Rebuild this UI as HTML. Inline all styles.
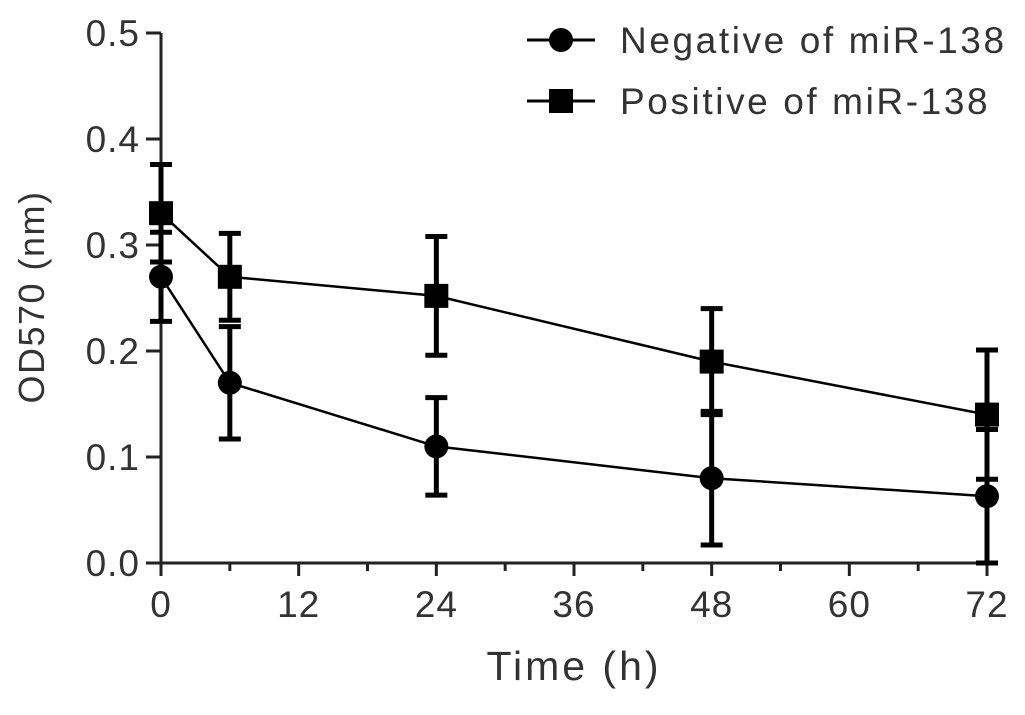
<!DOCTYPE html>
<html><head><meta charset="utf-8"><style>
body{margin:0;background:#fff}
svg text{font-family:"Liberation Sans",sans-serif;fill:#333}
</style></head><body>
<svg id="chart" width="1025" height="710" xmlns="http://www.w3.org/2000/svg">
<g id="axes"></g><g id="marks"></g>
<text x="574" y="680" font-size="41" letter-spacing="3" text-anchor="middle">Time (h)</text>
<text transform="translate(44,297) rotate(-90)" font-size="36" letter-spacing="1.5" text-anchor="middle">OD570 (nm)</text>
<g>
<line x1="527" y1="40" x2="595" y2="40" stroke="#000" stroke-width="3"/>
<circle cx="561" cy="40" r="12" fill="#000"/>
<text x="620" y="53" font-size="37" letter-spacing="2.6">Negative of miR-138</text>
<line x1="527" y1="101" x2="595" y2="101" stroke="#000" stroke-width="3"/>
<rect x="549" y="89" width="24" height="24" fill="#000"/>
<text x="620" y="114" font-size="37" letter-spacing="2.6">Positive of miR-138</text>
</g>
</svg>
<script>
const times=[0,6,24,48,72];
const negMean=[0.27,0.17,0.11,0.08,0.063];
const negErr=[0.042,0.053,0.046,0.063,0.063];
const posMean=[0.33,0.27,0.252,0.19,0.14];
const posErr=[0.046,0.041,0.056,0.05,0.061];
const xTicks=[0,12,24,36,48,60,72];
const yTicks=[0.0,0.1,0.2,0.3,0.4,0.5];
const X=t=>161+t*(826/72);
const Y=v=>563-v*1060;
const NS="http://www.w3.org/2000/svg";
function mk(p,tag,a){const e=document.createElementNS(NS,tag);for(const k in a)e.setAttribute(k,a[k]);p.appendChild(e);return e;}
const ax=document.getElementById('axes'),mg=document.getElementById('marks');
let e=mk(ax,'line',{x1:161,y1:Y(0.5),x2:161,y2:564,stroke:'#222','stroke-width':3});


e=mk(ax,'line',{x1:160,y1:563,x2:X(72)+2,y2:563,stroke:'#222','stroke-width':3});


yTicks.forEach(v=>{mk(ax,'line',{x1:146,y1:Y(v),x2:161,y2:Y(v),stroke:'#222','stroke-width':3});
const t=mk(ax,'text',{x:140,y:Y(v)+13,'font-size':37,'letter-spacing':1,'text-anchor':'end'});t.textContent=v.toFixed(1);

});
xTicks.forEach(v=>{mk(ax,'line',{x1:X(v),y1:563,x2:X(v),y2:576,stroke:'#222','stroke-width':3});
const t=mk(ax,'text',{x:X(v),y:617,'font-size':37,'letter-spacing':1,'text-anchor':'middle'});t.textContent=v;

});
for(let m=6;m<72;m+=12)mk(ax,'line',{x1:X(m),y1:563,x2:X(m),y2:571,stroke:'#222','stroke-width':3});
function series(mean,err,shape,name){
const pts=times.map((t,i)=>X(t)+','+Y(mean[i])).join(' ');
const l=mk(mg,'polyline',{points:pts,fill:'none',stroke:'#000','stroke-width':2.5});


times.forEach((t,i)=>{const x=X(t),y1=Y(mean[i]+err[i]),y2=Y(Math.max(0,mean[i]-err[i]));
const g=mk(mg,'g',{});


mk(g,'line',{x1:x,y1:y1,x2:x,y2:y2,stroke:'#000','stroke-width':5});
mk(g,'line',{x1:x-11,y1:y1,x2:x+11,y2:y1,stroke:'#000','stroke-width':5});
mk(g,'line',{x1:x-11,y1:y2,x2:x+11,y2:y2,stroke:'#000','stroke-width':5});
let p;if(shape==='c')p=mk(mg,'circle',{cx:x,cy:Y(mean[i]),r:12,fill:'#000'});
else p=mk(mg,'rect',{x:x-12,y:Y(mean[i])-12,width:24,height:24,fill:'#000'});

});}
series(negMean,negErr,'c','negative');
series(posMean,posErr,'s','positive');
</script>
</body></html>
